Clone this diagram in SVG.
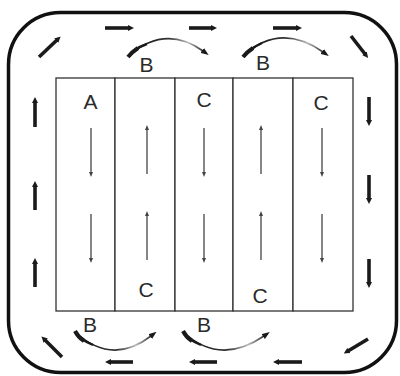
<svg xmlns="http://www.w3.org/2000/svg" width="400" height="376" viewBox="0 0 400 376">
<style>
.lbl{font-family:"Liberation Sans",Arial,sans-serif;font-size:21px;fill:#2a2a2a;text-anchor:middle}
.col{fill:#fff;stroke:#333;stroke-width:1.3}
.flow{stroke:#1a1a1a;stroke-width:3.6;fill:none;marker-end:url(#hd)}
.inner{stroke:#444;stroke-width:1.3;fill:none;marker-end:url(#hs)}
.curve{stroke:url(#fade);stroke-width:1.6;fill:none;marker-end:url(#hc)}
.thick{stroke:#1a1a1a;fill:none;stroke-linecap:butt}
</style>
<defs>
<marker id="hd" viewBox="0 0 6 6" refX="1" refY="3" markerWidth="6" markerHeight="6" markerUnits="userSpaceOnUse" orient="auto"><path d="M0,0 L6,3 L0,6 z" fill="#1a1a1a"/></marker>
<marker id="hs" viewBox="0 0 5 4" refX="1" refY="2" markerWidth="5" markerHeight="4" markerUnits="userSpaceOnUse" orient="auto"><path d="M0,0 L5,2 L0,4 z" fill="#444"/></marker>
<marker id="hc" viewBox="0 0 8 6" refX="1" refY="3" markerWidth="8" markerHeight="6" markerUnits="userSpaceOnUse" orient="auto"><path d="M0,0 L8,3 L0,6 z" fill="#1a1a1a"/></marker>
<linearGradient id="fade" x1="0" y1="0" x2="1" y2="0">
<stop offset="0" stop-color="#111"/><stop offset="0.55" stop-color="#333"/><stop offset="0.8" stop-color="#bbb"/><stop offset="1" stop-color="#333"/>
</linearGradient>
</defs>
<rect width="400" height="376" fill="#fff"/>
<g id="frame"><rect x="8.5" y="12.5" width="388" height="360" rx="52" ry="52" fill="none" stroke="#111" stroke-width="3.5"/></g>
<g id="col1"><rect class="col" x="56" y="78" width="59" height="233"/><text class="lbl" x="90.5" y="109">A</text></g>
<g id="col2"><rect class="col" x="115" y="78" width="60" height="233"/><text class="lbl" x="146" y="297">C</text></g>
<g id="col3"><rect class="col" x="175" y="78" width="58" height="233"/><text class="lbl" x="204" y="107">C</text></g>
<g id="col4"><rect class="col" x="233" y="78" width="60" height="233"/><text class="lbl" x="260" y="303">C</text></g>
<g id="col5"><rect class="col" x="293" y="78" width="60" height="233"/><text class="lbl" x="321" y="110">C</text></g>
<g id="labels-b">
<text class="lbl" x="146.5" y="72">B</text>
<text class="lbl" x="263" y="70">B</text>
<text class="lbl" x="90" y="332">B</text>
<text class="lbl" x="204" y="332">B</text>
</g>
<g id="connectors">
<line class="inner" x1="91" y1="128" x2="91" y2="173"/>
<line class="inner" x1="91" y1="214" x2="91" y2="259"/>
<line class="inner" x1="147" y1="174" x2="147" y2="129"/>
<line class="inner" x1="147" y1="260" x2="147" y2="215"/>
<line class="inner" x1="204" y1="128" x2="204" y2="173"/>
<line class="inner" x1="204" y1="214" x2="204" y2="259"/>
<line class="inner" x1="261" y1="174" x2="261" y2="129"/>
<line class="inner" x1="261" y1="260" x2="261" y2="215"/>
<line class="inner" x1="322" y1="128" x2="322" y2="173"/>
<line class="inner" x1="322" y1="214" x2="322" y2="259"/>
<line class="flow" x1="105" y1="28" x2="129" y2="28"/>
<line class="flow" x1="189" y1="28" x2="212" y2="28"/>
<line class="flow" x1="273" y1="28" x2="297" y2="28"/>
<line class="flow" x1="369" y1="97" x2="369" y2="121"/>
<line class="flow" x1="369" y1="175" x2="369" y2="199"/>
<line class="flow" x1="369" y1="259" x2="369" y2="283"/>
<line class="flow" x1="133" y1="362" x2="110" y2="362"/>
<line class="flow" x1="217" y1="362" x2="194" y2="362"/>
<line class="flow" x1="302" y1="362" x2="278" y2="362"/>
<line class="flow" x1="35" y1="127" x2="35" y2="102"/>
<line class="flow" x1="35" y1="210" x2="35" y2="186"/>
<line class="flow" x1="35" y1="287" x2="35" y2="263"/>
<line class="flow" x1="39" y1="57" x2="57" y2="40"/>
<line class="flow" x1="351" y1="36" x2="365" y2="54"/>
<line class="flow" x1="368" y1="339" x2="348" y2="351"/>
<line class="flow" x1="62" y1="357" x2="45" y2="340"/>
<path class="curve" d="M128,56 Q165,24 203,51"/>
<path class="thick" stroke-width="4" d="M128,57 Q132,52 138,48"/>
<path class="thick" stroke-width="2.4" d="M134,51 Q140,46 147,44"/>
<path class="curve" d="M243,56 Q280,22 323,52"/>
<path class="thick" stroke-width="4" d="M243,57 Q247,52 253,48"/>
<path class="thick" stroke-width="2.4" d="M249,51 Q255,46 262,43"/>
<path class="curve" d="M75,332 Q112,366 151,336"/>
<path class="thick" stroke-width="4" d="M75,331 Q78,337 84,341"/>
<path class="thick" stroke-width="2.4" d="M80,338 Q86,342 93,345"/>
<path class="curve" d="M183,332 Q220,366 264,336"/>
<path class="thick" stroke-width="4" d="M183,331 Q186,337 192,341"/>
<path class="thick" stroke-width="2.4" d="M188,338 Q194,342 201,345"/>
</g>
</svg>
